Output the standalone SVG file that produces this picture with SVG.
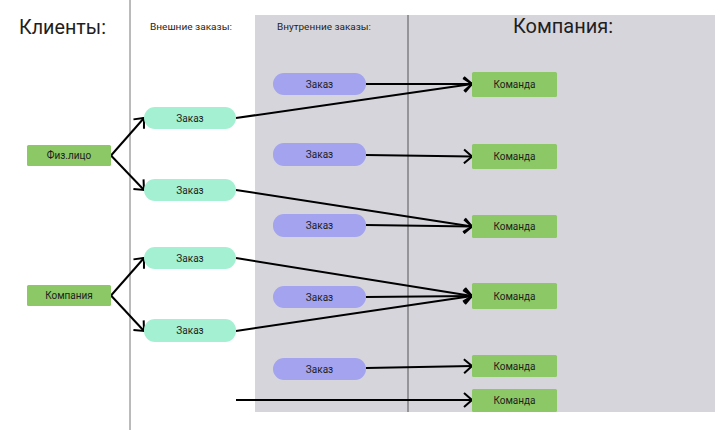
<svg xmlns="http://www.w3.org/2000/svg" width="727" height="430" viewBox="0 0 727 430">
<defs>
<marker id="arr" viewBox="0 0 10 16" refX="9" refY="8" markerWidth="10" markerHeight="16" markerUnits="userSpaceOnUse" orient="auto">
<path d="M1,1 L9,8 L1,15" fill="none" stroke="#000" stroke-width="2"/>
</marker>
<style>
text{font-family:Roboto,"Liberation Sans",sans-serif;fill:#1e1e1e}
.lbl{font-size:10px;text-anchor:middle;dominant-baseline:central}
.cl{fill:#8cc866}
.ext{fill:#a3f0d2}
.int{fill:#a3a3f0}
.cmd{fill:#8cc866}
.c{fill:none;stroke:#000;stroke-width:2;marker-end:url(#arr)}
</style>
</defs>
<rect width="727" height="430" fill="#fff"/>
<rect x="255" y="15" width="460" height="397" fill="#d6d5db"/>
<line x1="130" y1="0" x2="130" y2="430" stroke="#777" stroke-width="1"/>
<line x1="408" y1="15" x2="408" y2="412" stroke="#555" stroke-width="1"/>
<text x="19" y="34" font-size="21" textLength="87" lengthAdjust="spacingAndGlyphs">Клиенты:</text>
<text x="150" y="30" font-size="9.5" textLength="82" lengthAdjust="spacingAndGlyphs">Внешние заказы:</text>
<text x="277" y="30" font-size="9.5" textLength="94" lengthAdjust="spacingAndGlyphs">Внутренние заказы:</text>
<text x="513" y="33" font-size="20">Компания:</text>
<g id="connectors">
<path class="c" d="M111,155.5 L144,118"/>
<path class="c" d="M111,155.5 L144,190"/>
<path class="c" d="M111,295.5 L144,258"/>
<path class="c" d="M111,295.5 L144,331"/>
<path class="c" d="M366,84 L472,84"/>
<path class="c" d="M236,118 L472,84"/>
<path class="c" d="M366,155 L472,156.5"/>
<path class="c" d="M236,190 L472,226.5"/>
<path class="c" d="M366,225 L472,226.5"/>
<path class="c" d="M236,258 L472,296"/>
<path class="c" d="M366,297 L472,296"/>
<path class="c" d="M236,331 L472,296"/>
<path class="c" d="M366,368 L472,366"/>
<path class="c" d="M236,400 L472,400"/>
</g>
<g id="client1"><rect class="cl" x="27" y="145" width="84" height="21" rx="1.5"/><text class="lbl" x="69" y="155.5">Физ.лицо</text></g>
<g id="client2"><rect class="cl" x="27" y="285" width="84" height="21" rx="1.5"/><text class="lbl" x="69" y="295.5">Компания</text></g>
<g id="ext1"><rect class="ext" x="144" y="107" width="92" height="22" rx="11"/><text class="lbl" x="190" y="118">Заказ</text></g>
<g id="ext2"><rect class="ext" x="144" y="179" width="92" height="22" rx="11"/><text class="lbl" x="190" y="190">Заказ</text></g>
<g id="ext3"><rect class="ext" x="144" y="247" width="92" height="22" rx="11"/><text class="lbl" x="190" y="258">Заказ</text></g>
<g id="ext4"><rect class="ext" x="144" y="319" width="92" height="23" rx="11"/><text class="lbl" x="190" y="330.5">Заказ</text></g>
<g id="int1"><rect class="int" x="273" y="73" width="93" height="22" rx="11"/><text class="lbl" x="319.5" y="84">Заказ</text></g>
<g id="int2"><rect class="int" x="273" y="143" width="93" height="23" rx="11"/><text class="lbl" x="319.5" y="154.5">Заказ</text></g>
<g id="int3"><rect class="int" x="273" y="214" width="93" height="23" rx="11"/><text class="lbl" x="319.5" y="225.5">Заказ</text></g>
<g id="int4"><rect class="int" x="273" y="286" width="93" height="22" rx="11"/><text class="lbl" x="319.5" y="297">Заказ</text></g>
<g id="int5"><rect class="int" x="273" y="358" width="93" height="22" rx="11"/><text class="lbl" x="319.5" y="369">Заказ</text></g>
<g id="cmd1"><rect class="cmd" x="472" y="72" width="85" height="25" rx="1.5"/><text class="lbl" x="514.5" y="84.5">Команда</text></g>
<g id="cmd2"><rect class="cmd" x="472" y="144" width="85" height="25" rx="1.5"/><text class="lbl" x="514.5" y="156.5">Команда</text></g>
<g id="cmd3"><rect class="cmd" x="472" y="215" width="85" height="23" rx="1.5"/><text class="lbl" x="514.5" y="226.5">Команда</text></g>
<g id="cmd4"><rect class="cmd" x="472" y="283" width="85" height="26" rx="1.5"/><text class="lbl" x="514.5" y="296">Команда</text></g>
<g id="cmd5"><rect class="cmd" x="472" y="355" width="85" height="22" rx="1.5"/><text class="lbl" x="514.5" y="366">Команда</text></g>
<g id="cmd6"><rect class="cmd" x="472" y="389" width="85" height="23" rx="1.5"/><text class="lbl" x="514.5" y="400.5">Команда</text></g>
</svg>
